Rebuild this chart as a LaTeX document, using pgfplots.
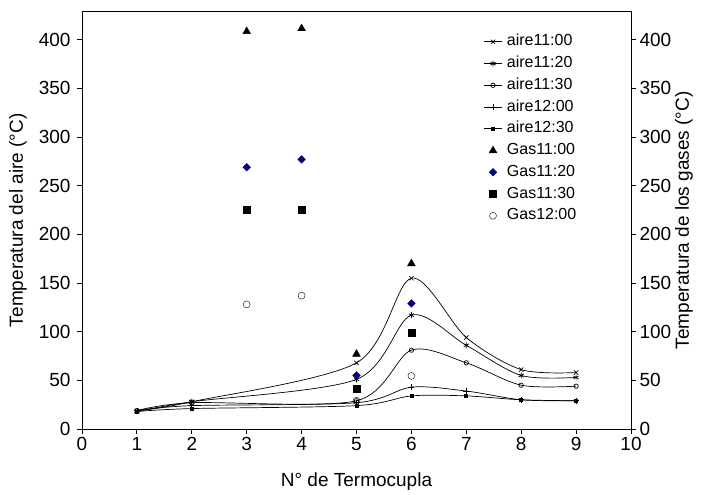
\documentclass[border=0pt]{standalone}
\usepackage{pgfplots}
\pgfplotsset{compat=1.18}
\usepackage{fontspec}
\setmainfont{Liberation Sans}
\definecolor{navyc}{RGB}{0,0,128}
\begin{document}
\begin{tikzpicture}
\path[use as bounding box] (-82pt,-66pt) rectangle (622pt,429pt);
\begin{axis}[
  name=main, at={(0,0)}, anchor=south west,
  scale only axis, width=549pt, height=417.5pt,
  xmin=0, xmax=10, ymin=0, ymax=429,
  xtick={0,...,10}, ytick={0,50,...,400},
  xtick pos=bottom, ytick pos=left,
  tick align=outside, major tick length=5pt,
  tick style={black, line width=0.8pt},
  axis line style={black, line width=0.9pt},
  font=\fontsize{19}{22}\selectfont,
  /pgf/number format/assume math mode=true,
  yticklabel style={xshift=-3pt},
  xlabel={N° de Termocupla},
  xlabel style={yshift=-15pt},
  ylabel={Temperatura del aire (°C)},
  ylabel style={yshift=5pt},
  legend style={draw=none, fill=none, at={(0.908,0.953)}, anchor=north east,
    font=\fontsize{16}{16}\selectfont, row sep=4.75pt, column sep=4pt,
    nodes={inner sep=1pt, text height=11.5pt, text depth=3.5pt}},
  legend cell align=left,
]
\addplot[black, line width=0.7pt, smooth, mark=x, mark size=3pt] coordinates {(1,18.5)(2,28)(5,68)(6,155)(7,94)(8,61)(9,58)};
\addlegendentry{aire11:00}
\addplot[black, line width=0.7pt, smooth, mark=asterisk, mark size=3pt] coordinates {(1,18)(2,28)(5,51)(6,117)(7,86)(8,55)(9,53)};
\addlegendentry{aire11:20}
\addplot[black, line width=0.7pt, smooth, mark=o, mark size=2.2pt, mark options={fill=white}] coordinates {(1,19)(2,27)(5,29)(6,81)(7,68)(8,45)(9,44)};
\addlegendentry{aire11:30}
\addplot[black, line width=0.7pt, smooth, mark=+, mark size=3pt] coordinates {(1,19)(2,24)(5,27)(6,43)(7,39)(8,30)(9,29)};
\addlegendentry{aire12:00}
\addplot[black, line width=0.7pt, smooth, mark=square*, mark size=1.5pt] coordinates {(1,18)(2,21)(5,24)(6,34)(7,34)(8,30)(9,29)};
\addlegendentry{aire12:30}
\addplot[only marks, mark=triangle*, mark size=4.5pt, black] coordinates {(3,408.5)(4,411.5)(5,77)(6,170)};
\addlegendentry{Gas11:00}
\addplot[only marks, mark=square*, mark size=2.7pt, navyc, mark options={rotate=45}] coordinates {(3,269)(4,277)(5,55)(6,129)};
\addlegendentry{Gas11:20}
\addplot[only marks, mark=square*, mark size=3.5pt, black] coordinates {(3,225)(4,225)(5,41)(6,98.5)};
\addlegendentry{Gas11:30}
\addplot[only marks, mark=o, mark size=3.5pt, black, mark options={fill=white}] coordinates {(3,128)(4,137)(5,29)(6,54.5)};
\addlegendentry{Gas12:00}
\end{axis}
\begin{axis}[
  at={(0,0)}, anchor=south west,
  scale only axis, width=549pt, height=417.5pt,
  xmin=0, xmax=10, ymin=0, ymax=429,
  axis y line*=right, axis x line=none,
  ytick={0,50,...,400},
  tick align=outside, major tick length=5pt,
  tick style={black, line width=0.8pt},
  axis line style={black, line width=0.9pt},
  font=\fontsize{19}{22}\selectfont,
  /pgf/number format/assume math mode=true,
  ylabel={Temperatura de los gases (°C)},
  ylabel style={yshift=3pt},
]
\end{axis}
\end{tikzpicture}
\end{document}
